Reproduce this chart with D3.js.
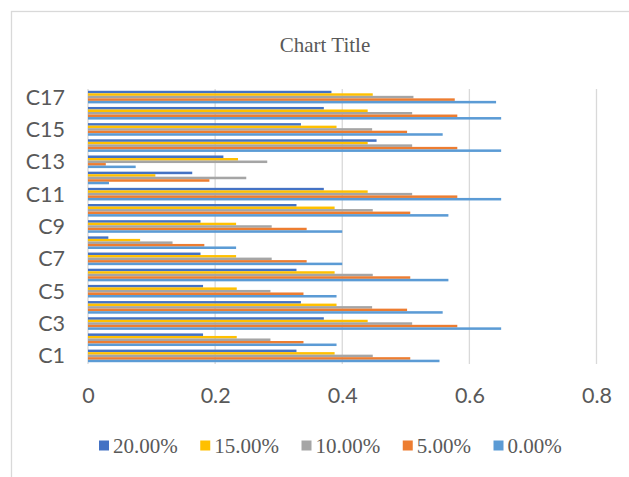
<!DOCTYPE html>
<html>
<head>
<meta charset="utf-8">
<script src="https://cdn.jsdelivr.net/npm/d3@7"></script>
<style>
  html, body { margin: 0; padding: 0; background: #fff; }
  svg { display: block; }
</style>
</head>
<body>
<svg id="chart" width="629" height="477"></svg>
<script>
// Categories, bottom to top
const categories = ["C1","C2","C3","C4","C5","C6","C7","C8","C9","C10","C11","C12","C13","C14","C15","C16","C17"];
const seriesNames = ["20.00%", "15.00%", "10.00%", "5.00%", "0.00%"];
const seriesColors = ["#4472C4", "#FFC000", "#A5A5A5", "#ED7D31", "#5B9BD5"];

// Values per series, in category order C1..C17
const s20 = [0.328,0.181,0.371,0.335,0.181,0.328,0.177,0.032,0.177,0.328,0.371,0.164,0.213,0.454,0.335,0.371,0.383];
const s15 = [0.388,0.234,0.440,0.391,0.234,0.388,0.233,0.082,0.233,0.388,0.440,0.106,0.236,0.440,0.391,0.440,0.448];
const s10 = [0.448,0.287,0.510,0.447,0.287,0.448,0.289,0.133,0.289,0.448,0.510,0.249,0.282,0.510,0.447,0.510,0.512];
const s5  = [0.507,0.339,0.581,0.502,0.339,0.507,0.344,0.183,0.344,0.507,0.581,0.191,0.028,0.581,0.502,0.581,0.577];
const s0  = [0.553,0.391,0.650,0.558,0.391,0.567,0.400,0.233,0.400,0.567,0.650,0.033,0.075,0.650,0.558,0.650,0.642];
const seriesValues = [s20, s15, s10, s5, s0];

const xTicks = [0, 0.2, 0.4, 0.6, 0.8];
const yLabels = ["C1","C3","C5","C7","C9","C11","C13","C15","C17"];

const svg = d3.select("#chart");
const textColor = "#595959";
const plot = { left: 88, right: 596.5, top: 89, bottom: 364 };

// Outer frame of the chart
svg.append("rect")
  .attr("x", 11.5).attr("y", 11.5)
  .attr("width", 640).attr("height", 500)
  .attr("fill", "none")
  .attr("stroke", "#D9D9D9")
  .attr("stroke-width", 1.3);

// Title
svg.append("text")
  .attr("x", 325).attr("y", 51.5)
  .attr("text-anchor", "middle")
  .attr("font-family", "'Liberation Serif', 'Times New Roman', serif")
  .attr("font-size", 21)
  .attr("fill", textColor)
  .text("Chart Title");

const x = d3.scaleLinear().domain([0, 0.8]).range([plot.left, plot.right]);
const y = d3.scaleBand().domain(categories).range([plot.bottom, plot.top]).paddingInner(0.22).paddingOuter(0.11);
const yInner = d3.scaleBand().domain(seriesNames).range([0, y.bandwidth()]);

// Vertical gridlines
svg.append("g")
  .selectAll("line")
  .data(xTicks)
  .join("line")
  .attr("x1", d => x(d)).attr("x2", d => x(d))
  .attr("y1", plot.top).attr("y2", plot.bottom)
  .attr("stroke", "#D9D9D9")
  .attr("stroke-width", 1.3);

// Bars
const rows = [];
categories.forEach((c, i) => {
  seriesNames.forEach((s, j) => {
    rows.push({ cat: c, series: s, value: seriesValues[j][i], color: seriesColors[j] });
  });
});
svg.append("g")
  .selectAll("rect")
  .data(rows)
  .join("rect")
  .attr("x", x(0))
  .attr("y", d => y(d.cat) + yInner(d.series))
  .attr("width", d => x(d.value) - x(0))
  .attr("height", yInner.bandwidth())
  .attr("fill", d => d.color);

// X axis labels
const xAxis = d3.axisBottom(x).tickValues(xTicks).tickSize(0).tickPadding(0)
  .tickFormat(d => d === 0 ? "0" : d3.format(".1f")(d));
const gx = svg.append("g").attr("transform", `translate(0, ${plot.bottom})`).call(xAxis);
gx.select(".domain").remove();
gx.selectAll("text")
  .attr("y", 39).attr("dy", null)
  .attr("font-family", "Lato, 'Open Sans', sans-serif")
  .attr("font-size", 21.5)
  .attr("fill", textColor);

// Y axis labels (every other category)
const yAxis = d3.axisLeft(y).tickValues(yLabels).tickSize(0).tickPadding(0);
const gy = svg.append("g").attr("transform", "translate(65, 0)").call(yAxis);
gy.select(".domain").remove();
gy.selectAll("text")
  .attr("x", 0).attr("dy", "0.35em")
  .attr("font-family", "Lato, 'Open Sans', sans-serif")
  .attr("font-size", 21.5)
  .attr("fill", textColor);

// Legend
const legend = svg.append("g");
const items = legend.selectAll("g").data(seriesNames).join("g");
items.append("rect")
  .attr("width", 10).attr("height", 10)
  .attr("y", 440.5)
  .attr("fill", (d, i) => seriesColors[i]);
items.append("text")
  .attr("x", 14).attr("y", 452.5)
  .attr("font-family", "'Liberation Serif', 'Times New Roman', serif")
  .attr("font-size", 21)
  .attr("fill", textColor)
  .text(d => d);
let cursor = 99;
items.each(function () {
  const g = d3.select(this);
  g.attr("transform", `translate(${cursor}, 0)`);
  const w = 14 + g.select("text").node().getComputedTextLength();
  cursor += w + 22.5;
});
</script>
</body>
</html>
